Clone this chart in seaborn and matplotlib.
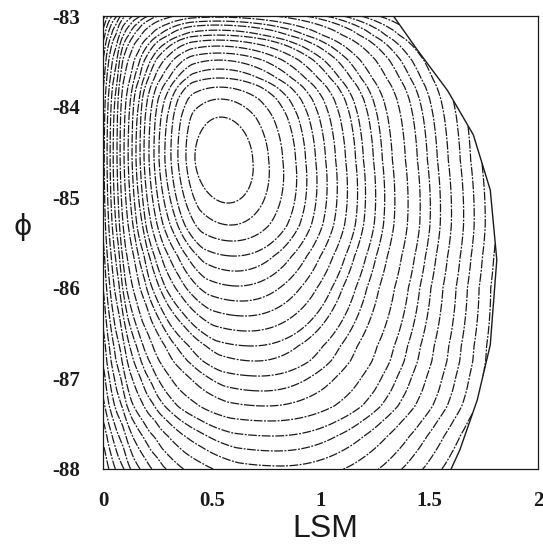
import numpy as np
import matplotlib
matplotlib.use('Agg')
import matplotlib.pyplot as plt
import seaborn as sns

# contour crossings (contour index -> position)
center_lsm = 0.55
center_phi = -84.59

# along the row through the minimum, left of the centre (levels 1..21)
lsm_left = [0.422, 0.381, 0.344, 0.312, 0.284, 0.257, 0.234, 0.211, 0.188, 0.170,
            0.151, 0.133, 0.115, 0.096, 0.078, 0.064, 0.046, 0.032, 0.018, 0.005, -0.01]
# right of the centre (levels 1..24)
lsm_right = [0.688, 0.761, 0.826, 0.885, 0.931, 0.977, 1.023, 1.069, 1.115, 1.161,
             1.197, 1.243, 1.284, 1.330, 1.390, 1.445, 1.491, 1.537, 1.587, 1.642,
             1.69, 1.74, 1.79, 1.84]
# along the column through the minimum, above (levels 1..15)
phi_top = [-84.115, -83.916, -83.784, -83.684, -83.585, -83.486, -83.408, -83.331,
           -83.265, -83.210, -83.155, -83.099, -83.055, -83.011, -82.97]
# below (levels 1..19)
phi_bottom = [-85.064, -85.307, -85.483, -85.649, -85.815, -85.980, -86.146, -86.311,
              -86.477, -86.642, -86.808, -86.974, -87.139, -87.305, -87.470, -87.636,
              -87.801, -87.967, -88.13]

# drift of the contour centres towards larger LSM at low phi
drift_phi = [-88.0, -87.0, -86.0, -84.59, -83.0]
drift_lsm = [0.82, 0.72, 0.62, 0.55, 0.52]

# right edge of the computed region
edge_phi = [-83.0, -83.375, -83.82, -84.31, -84.92, -85.69, -86.63, -87.24, -87.79, -88.0]
edge_lsm = [1.335, 1.445, 1.583, 1.702, 1.78, 1.81, 1.78, 1.72, 1.64, 1.60]

x_ticks = [0, 0.5, 1, 1.5, 2]
x_ticklabels = ['0', '0.5', '1', '1.5', '2']
y_ticks = [-88, -87, -86, -85, -84, -83]
y_ticklabels = ['-88', '-87', '-86', '-85', '-84', '-83']

sns.set_theme(style='white')
plt.rcParams['lines.dashdot_pattern'] = [7, 1.2, 1.5, 1.2]

# radius of each contour, measured on the right-hand side of the minimum
rho = np.array(lsm_right) - center_lsm
rho_levels = np.concatenate([rho, rho[-1] + 0.05 * np.arange(1, 12)])

xs = np.linspace(0, 2, 900)
ys = np.linspace(-88, -83, 700)
X, Y = np.meshgrid(xs, ys)

# shift the centre with phi (left side squeezed, right side shifted)
xc = np.interp(Y, drift_phi, drift_lsm)
Xw = np.where(X < xc, X * center_lsm / xc, X - (xc - center_lsm))

nl, nr, nt, nb = len(lsm_left), len(lsm_right), len(phi_top), len(phi_bottom)
s_pos = np.concatenate([lsm_left[::-1], [center_lsm], lsm_right])
s_val = np.concatenate([-rho[:nl][::-1], [0], rho[:nr]])
t_pos = np.concatenate([phi_bottom[::-1], [center_phi], phi_top])
t_val = np.concatenate([-rho[:nb][::-1], [0], rho[:nt]])

S = np.interp(Xw, s_pos, s_val)
T = np.interp(Y, t_pos, t_val)
R = np.sqrt(S ** 2 + T ** 2)

edge = np.interp(Y, edge_phi[::-1], edge_lsm[::-1])
R = np.where(X > edge, np.nan, R)

fig = plt.figure(figsize=(5.43, 5.55), dpi=100)
ax = fig.add_axes([0.19, 0.155, 0.801, 0.816])

ax.contour(X, Y, R, levels=rho_levels, colors='k', linewidths=0.9, linestyles='dashdot')
sns.lineplot(x=edge_lsm, y=edge_phi, sort=False, estimator=None, color='k',
             linewidth=1.0, ax=ax)

ax.set_xlim(0, 2)
ax.set_ylim(-88, -83)
ax.set_xticks(x_ticks)
ax.set_xticklabels(x_ticklabels)
ax.set_yticks(y_ticks)
ax.set_yticklabels(y_ticklabels)
ax.tick_params(axis='x', direction='inout', length=8, width=0.9, color='k', pad=12)
ax.tick_params(axis='y', direction='inout', length=11, width=0.9, color='k', pad=11)
for lab in ax.get_xticklabels() + ax.get_yticklabels():
    lab.set_family('Liberation Serif')
    lab.set_fontweight('bold')
    lab.set_fontsize(15)
    lab.set_color('k')

for s in ax.spines.values():
    s.set_color('k')
    s.set_linewidth(0.9)

ax.set_xlabel('LSM', family='Liberation Sans', fontsize=23, color='k')
ax.xaxis.set_label_coords(0.51, -0.1)
ax.set_ylabel('ϕ', family='DejaVu Sans', fontsize=20, color='k', rotation=0,
              ha='center', va='center')
ax.yaxis.set_label_coords(-0.185, 0.535)

fig.savefig('out.png', dpi=100)
